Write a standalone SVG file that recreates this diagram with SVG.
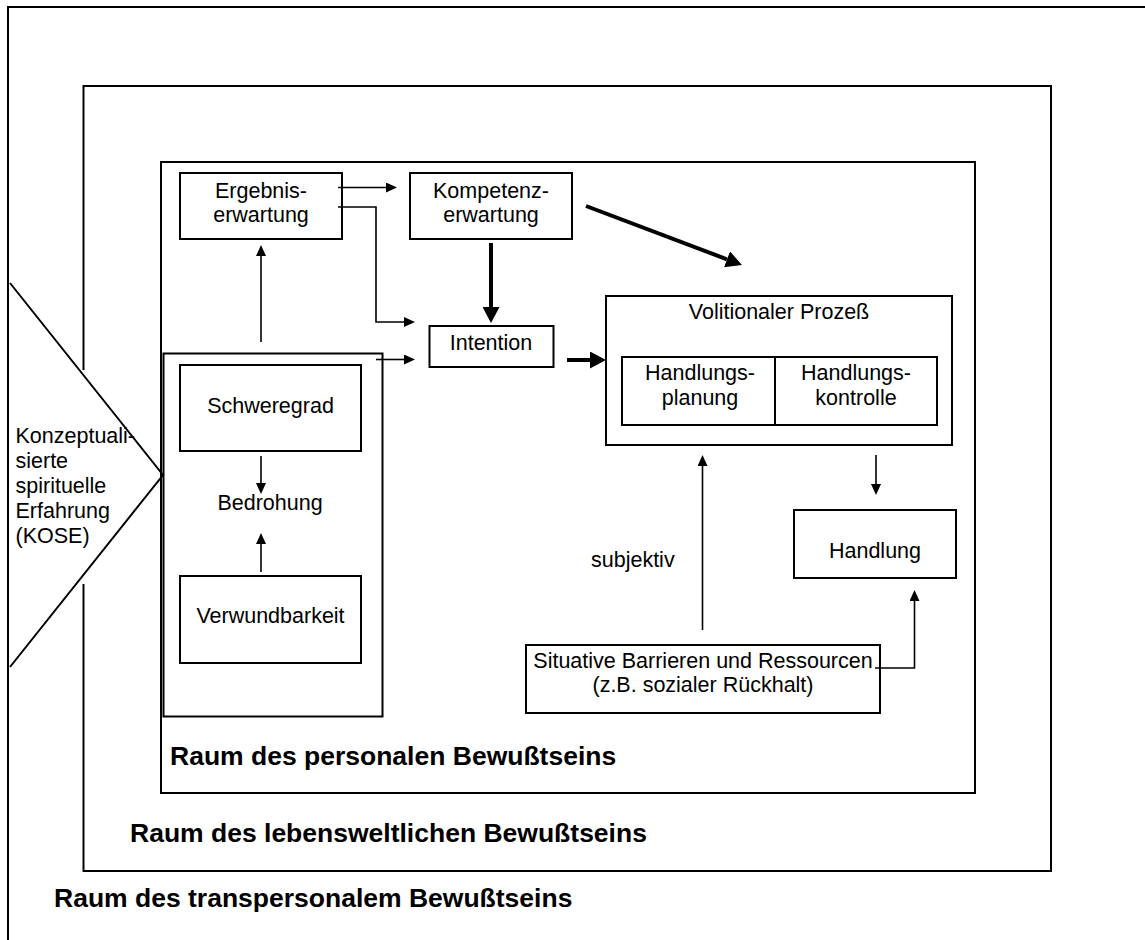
<svg xmlns="http://www.w3.org/2000/svg" width="1145" height="940" viewBox="0 0 1145 940">
<style>
  .box{fill:none;stroke:#000;stroke-width:2}
  .frame{fill:none;stroke:#000;stroke-width:2}
  .t{font-family:"Liberation Sans",Arial,sans-serif;font-size:21.5px;fill:#000}
  .c{text-anchor:middle}
  .b{font-family:"Liberation Sans",Arial,sans-serif;font-size:26.5px;font-weight:bold;fill:#000}
  .thin{fill:none;stroke:#000;stroke-width:1.6;marker-end:url(#ah)}
  .thick{fill:none;stroke:#000;stroke-width:4;marker-end:url(#ahb)}
</style>
<defs>
  <marker id="ah" markerUnits="userSpaceOnUse" viewBox="0 0 11 10" refX="0" refY="5" markerWidth="11" markerHeight="10" orient="auto">
    <path d="M0,0 L11,5 L0,10 z" fill="#000"/>
  </marker>
  <marker id="ahb" markerUnits="userSpaceOnUse" viewBox="0 0 16 17" refX="0" refY="8.5" markerWidth="16" markerHeight="17" orient="auto">
    <path d="M0,0 L16,8.5 L0,17 z" fill="#000"/>
  </marker>
</defs>
<rect width="1145" height="940" fill="#fff"/>

<g id="frame-transpersonal">
  <path class="frame" d="M8,945 V7 H1150"/>
  <text class="b" x="54" y="907">Raum des transpersonalem Bewußtseins</text>
</g>
<g id="frame-lebensweltlich">
  <path class="frame" d="M83.5,370 V86 H1051 V871 H83.5 V584"/>
  <text class="b" x="130" y="842">Raum des lebensweltlichen Bewußtseins</text>
</g>
<g id="frame-personal">
  <rect class="frame" x="161" y="162" width="814" height="631"/>
  <text class="b" x="170" y="765">Raum des personalen Bewußtseins</text>
</g>

<g id="kose">
  <polyline class="box" points="10,283 163,475 10,667"/>
  <text class="t" x="15.5" y="443">Konzeptuali-</text>
  <text class="t" x="15.5" y="468">sierte</text>
  <text class="t" x="15.5" y="493">spirituelle</text>
  <text class="t" x="15.5" y="518">Erfahrung</text>
  <text class="t" x="15.5" y="543">(KOSE)</text>
</g>

<g id="ergebnis">
  <rect class="box" x="180" y="173" width="162" height="66"/>
  <text class="t c" x="261" y="198">Ergebnis-</text>
  <text class="t c" x="261" y="222">erwartung</text>
</g>
<g id="kompetenz">
  <rect class="box" x="410" y="173" width="162" height="66"/>
  <text class="t c" x="491" y="198">Kompetenz-</text>
  <text class="t c" x="491" y="222">erwartung</text>
</g>
<g id="intention">
  <rect class="box" x="429.5" y="326" width="124" height="41"/>
  <text class="t c" x="491" y="350">Intention</text>
</g>
<g id="bedrohung-gruppe">
  <rect class="box" x="163.5" y="353.5" width="219" height="363"/>
</g>
<g id="schweregrad">
  <rect class="box" x="180" y="365" width="181" height="86"/>
  <text class="t c" x="270.5" y="413">Schweregrad</text>
</g>
<g id="bedrohung">
  <text class="t c" x="270" y="510">Bedrohung</text>
</g>
<g id="verwundbarkeit">
  <rect class="box" x="180" y="576" width="181" height="87"/>
  <text class="t c" x="270.5" y="623">Verwundbarkeit</text>
</g>
<g id="volitional">
  <rect class="box" x="606" y="296" width="346" height="149"/>
  <text class="t c" x="779" y="319">Volitionaler Prozeß</text>
</g>
<g id="handlungsplanung">
  <rect class="box" x="622" y="357" width="153" height="68"/>
  <text class="t c" x="700" y="380">Handlungs-</text>
  <text class="t c" x="700" y="405">planung</text>
</g>
<g id="handlungskontrolle">
  <rect class="box" x="775" y="357" width="162" height="68"/>
  <text class="t c" x="856" y="380">Handlungs-</text>
  <text class="t c" x="856" y="405">kontrolle</text>
</g>
<g id="handlung">
  <rect class="box" x="794" y="510" width="162" height="68"/>
  <text class="t c" x="875" y="558">Handlung</text>
</g>
<g id="situative">
  <rect class="box" x="526" y="645" width="354" height="68"/>
  <text class="t c" x="703" y="668">Situative Barrieren und Ressourcen</text>
  <text class="t c" x="703" y="692">(z.B. sozialer Rückhalt)</text>
</g>
<g id="label-subjektiv">
  <text class="t" x="591" y="567">subjektiv</text>
</g>

<g id="connectors">
  <path class="thin" d="M338,187.5 H386"/>
  <path class="thin" d="M338,207 H376 V322 H404"/>
  <path class="thin" d="M376,359.5 H404"/>
  <path class="thick" d="M491,243 V307"/>
  <path class="thick" d="M586,206 L727,259.3"/>
  <path class="thick" d="M567,360 H590"/>
  <path class="thin" d="M261,342 V256"/>
  <path class="thin" d="M261,456 V483"/>
  <path class="thin" d="M261,572 V544"/>
  <path class="thin" d="M876,455 V484"/>
  <path class="thin" d="M702.5,630 V466"/>
  <path class="thin" d="M875,668 H914.5 V601"/>
</g>
</svg>
